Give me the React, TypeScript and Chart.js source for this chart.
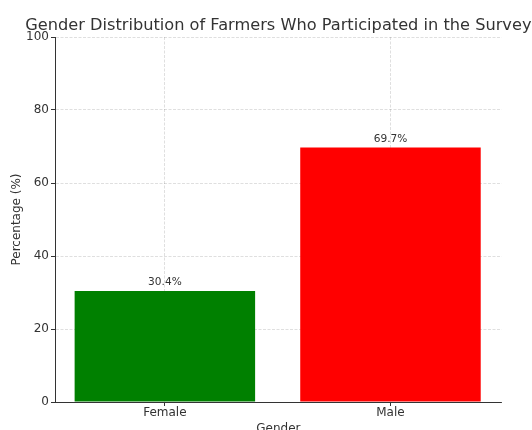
import React, { useEffect, useRef } from "react";
import { Chart, registerables } from "chart.js";

Chart.register(...registerables);

const categories = ["Female", "Male"];
const percentages = [30.4, 69.7];
const barColors = ["#008000", "#ff0000"];
const yTicks = [0, 20, 40, 60, 80, 100];
// horizontal extent of the plot, in category-index units
const xMin = -0.487;
const xMax = 1.493;

const chartTitle = "Gender Distribution of Farmers Who Participated in the Survey";
const FONT = "'DejaVu Sans', sans-serif";

// Title centred over the plot area (allowed to run past the canvas edge)
const titlePlugin = {
  id: "plotTitle",
  afterDraw(chart: any) {
    const { ctx, chartArea } = chart;
    ctx.save();
    ctx.font = `16.2px ${FONT}`;
    ctx.fillStyle = "#333";
    ctx.textAlign = "center";
    ctx.textBaseline = "alphabetic";
    ctx.fillText(chartTitle, (chartArea.left + chartArea.right) / 2, 30);
    ctx.restore();
  },
};

// Percentage labels above each bar
const valueLabels = {
  id: "valueLabels",
  afterDraw(chart: any) {
    const { ctx } = chart;
    const meta = chart.getDatasetMeta(0);
    ctx.save();
    ctx.font = `10.6px ${FONT}`;
    ctx.fillStyle = "#333";
    ctx.textAlign = "center";
    ctx.textBaseline = "bottom";
    meta.data.forEach((bar: any, i: number) => {
      ctx.fillText(`${percentages[i].toFixed(1)}%`, bar.x, bar.y - 3.5);
    });
    ctx.restore();
  },
};

export default function App() {
  const ref = useRef<HTMLCanvasElement>(null);

  useEffect(() => {
    if (!ref.current) return;
    const gridStyle = {
      color: "rgba(0,0,0,0.16)",
      lineWidth: 0.8,
      tickLength: 4,
      tickColor: "#333",
      tickBorderDash: [],
      tickWidth: 1,
    };
    const borderStyle = { display: true, color: "#333", width: 1, dash: [3, 1.5] };
    const chart = new Chart(ref.current, {
      type: "bar",
      data: {
        datasets: [
          {
            data: categories.map((_, i) => ({ x: i, y: percentages[i] })),
            backgroundColor: barColors,
            borderWidth: 0,
            barPercentage: 0.8,
            categoryPercentage: 1,
          },
        ],
      },
      options: {
        animation: false,
        responsive: false,
        maintainAspectRatio: false,
        layout: { padding: { left: 0, top: 37, right: 30.3, bottom: 0 } },
        plugins: {
          legend: { display: false },
          tooltip: { enabled: false },
          title: { display: false },
        },
        scales: {
          x: {
            type: "linear",
            z: 1,
            min: xMin,
            max: xMax,
            offset: false,
            afterBuildTicks(scale: any) {
              scale.ticks = categories.map((_, i) => ({ value: i }));
            },
            grid: { ...gridStyle, offset: false },
            border: borderStyle,
            ticks: {
              color: "#333",
              font: { family: FONT, size: 12 },
              padding: 0,
              maxRotation: 0,
              callback: (v: number) => categories[v],
            },
            title: {
              display: true,
              text: "Gender",
              color: "#333",
              font: { family: FONT, size: 12 },
              padding: { top: 0, bottom: -6.5 },
            },
            afterFit(scale: any) {
              scale.height = 28;
            },
          },
          y: {
            z: 1,
            min: 0,
            max: 100,
            afterBuildTicks(scale: any) {
              scale.ticks = yTicks.map((v) => ({ value: v }));
            },
            grid: gridStyle,
            border: borderStyle,
            ticks: { color: "#333", font: { family: FONT, size: 12 }, padding: 2 },
            title: {
              display: true,
              text: "Percentage (%)",
              color: "#333",
              font: { family: FONT, size: 12 },
              padding: { top: 9.8, bottom: 0 },
            },
            afterFit(scale: any) {
              scale.width = 55;
            },
          },
        },
      } as any,
      plugins: [titlePlugin, valueLabels],
    });
    return () => chart.destroy();
  }, []);

  return (
    <div style={{ position: "fixed", left: 0, top: 0, width: 532, height: 430, background: "#fff" }}>
      <canvas ref={ref} width={532} height={430} style={{ display: "block" }} />
    </div>
  );
}
